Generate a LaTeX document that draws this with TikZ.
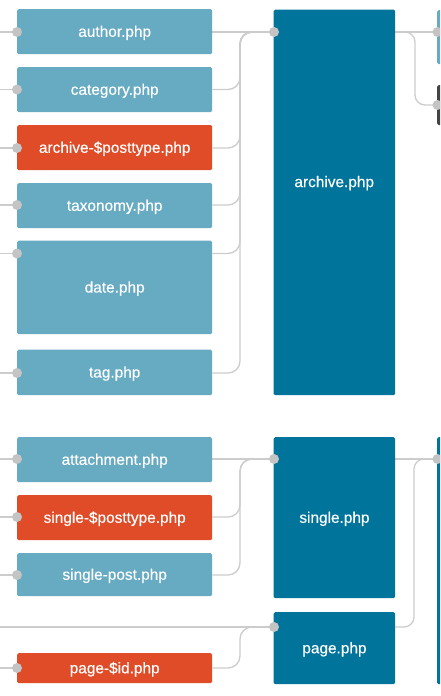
\documentclass[tikz,border=0pt]{standalone}
\usepackage{fontspec}
\setmainfont{Liberation Sans}
\newfontfamily\boxfont[FakeBold=0.35]{Liberation Sans}
\pgfdeclarelayer{bg}
\pgfsetlayers{bg,main}
\definecolor{lightblue}{HTML}{67ABC3}
\definecolor{orangered}{HTML}{E04C28}
\definecolor{darkblue}{HTML}{00749B}
\definecolor{darkgrey}{HTML}{444444}
\definecolor{linegray}{HTML}{CCCCCC}
\definecolor{dotgray}{HTML}{C4C4C4}
\begin{document}
\begin{tikzpicture}[x=1pt,y=-1pt,
  box/.style={anchor=north west, inner sep=0pt, rounded corners=1.5pt, text=white,
    font=\boxfont\fontsize{15.4}{18}\selectfont, text height=11pt, text depth=0.8pt},
  lb/.style={box, fill=lightblue, minimum width=195pt},
  ob/.style={box, fill=orangered, minimum width=195pt},
  db/.style={box, fill=darkblue, minimum width=121.5pt},
  lbl/.style={text=white, font=\boxfont\fontsize{15.4}{18}\selectfont, inner sep=0pt,
    text height=11pt, text depth=0.8pt},
  dot/.style={circle, fill=dotgray, minimum size=10pt, inner sep=0pt},
  conn/.style={draw=linegray, line width=1.3pt}]
\clip (0,0) rectangle (440,696);
% left column
\node[lb, minimum height=45pt] (author) at (17,9) {author.php};
\node[lb, minimum height=45pt] (category) at (17,67) {category.php};
\node[ob, minimum height=45pt] (archivept) at (17,125) {archive-\$posttype.php};
\node[lb, minimum height=45pt] (taxonomy) at (17,183) {taxonomy.php};
\node[lb, minimum height=93.5pt] (date) at (17,240.5) {date.php};
\node[lb, minimum height=45.5pt] (tag) at (17,349.5) {tag.php};
\node[lb, minimum height=45pt] (attachment) at (17,437) {attachment.php};
\node[ob, minimum height=45pt] (singlept) at (17,495) {single-\$posttype.php};
\node[lb, minimum height=43pt] (singlepost) at (17,553) {single-post.php};
\node[ob, minimum height=30pt] (pageid) at (17,653) {page-\$id.php};
% middle column
\node[db, minimum height=385.5pt] (archive) at (273.5,9.5) {};
\node[lbl] (archivelabel) at (334.25,182) {archive.php};
\node[db, minimum height=161pt] (single) at (273.5,437) {single.php};
\node[db, minimum height=72pt] (page) at (273.5,612) {page.php};
% right column (cut off)
\node[box, fill=lightblue, minimum width=30pt, minimum height=54pt] (rtop) at (437,10) {};
\node[box, fill=darkgrey, minimum width=30pt, minimum height=40pt] (rgrey) at (437,85) {};
\node[box, fill=darkblue, minimum width=30pt, minimum height=247pt] (rbig) at (437,437) {};
% dots
\node[dot] (authorin) at (17,32) {};
\node[dot] (categoryin) at (17,89.5) {};
\node[dot] (archiveptin) at (17,148) {};
\node[dot] (taxonomyin) at (17,205) {};
\node[dot] (datein) at (17,253.5) {};
\node[dot] (tagin) at (17,373) {};
\node[dot] (attachmentin) at (17,459) {};
\node[dot] (singleptin) at (17,517) {};
\node[dot] (singlepostin) at (17,575) {};
\node[dot] (pageidin) at (17,668) {};
\node[dot] (archivein) at (274,32) {};
\node[dot] (singlein) at (274,459) {};
\node[dot] (pagein) at (274,627) {};
\node[dot] (rtopin) at (437.5,32) {};
\node[dot] (rgreyin) at (437.5,105) {};
\node[dot] (rbigin) at (437.5,459) {};
% free ends at the left edge
\foreach \n in {author,category,archivept,taxonomy,date,tag,attachment,singlept,singlepost,pageid,page}
  \coordinate (\n-edge) at (0,0 |- \n in);
\begin{pgfonlayer}{bg}
  \foreach \n in {author,category,archivept,taxonomy,date,tag,attachment,singlept,singlepost,pageid,page}
    \draw[conn] (\n-edge) -- (\n in.center);
  % into archive.php
  \draw[conn] (author.east |- authorin) -- (archivein.center);
  \foreach \n in {category,archivept,taxonomy,date,tag}
    \draw[conn, rounded corners=12pt] (\n.east |- \n in) -| ([xshift=-34pt]archivein.center) -- (archivein.center);
  % into single.php
  \draw[conn] (attachment.east |- attachmentin) -- (singlein.center);
  \foreach \n in {singlept,singlepost}
    \draw[conn, rounded corners=12pt] (\n.east |- \n in) -| ([xshift=-34pt]singlein.center) -- (singlein.center);
  % into page.php
  \draw[conn, rounded corners=12pt] (pageid.east |- pageidin) -| ([xshift=-34pt]pagein.center) -- (pagein.center);
  % right side
  \draw[conn] (archive.east |- archivein) -- (rtopin.center);
  \draw[conn, rounded corners=10pt] (archive.east |- archivein) -| ([xshift=-22.5pt]rgreyin.center) -- (rgreyin.center);
  \draw[conn] (single.east |- singlein) -- (rbigin.center);
  \draw[conn, rounded corners=10pt] (page.east |- pagein) -| ([xshift=-23.5pt]rbigin.center) -- (rbigin.center);
\end{pgfonlayer}
\end{tikzpicture}
\end{document}
